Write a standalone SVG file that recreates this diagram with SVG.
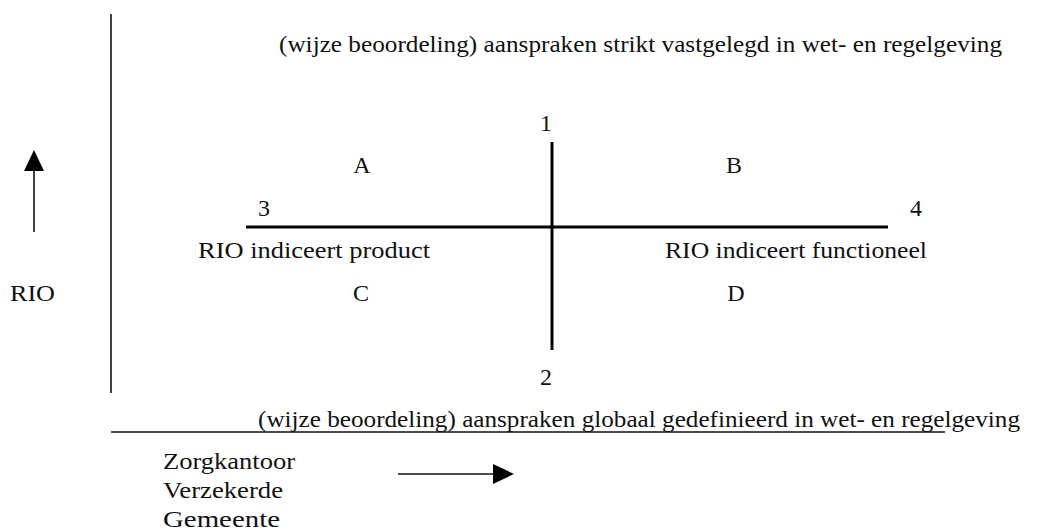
<svg xmlns="http://www.w3.org/2000/svg" width="1037" height="530" viewBox="0 0 1037 530">
<style>
text{font-family:"Liberation Serif","Times New Roman",serif;font-size:24px;fill:#111}
.c{text-anchor:middle}
.thin{stroke:#111;stroke-width:1.6;fill:none}
.thick{stroke:#000;stroke-width:3;fill:none}
.head{fill:#000}
</style>
<rect width="1037" height="530" fill="#fff"/>
<g id="connectors">
<line class="thin" x1="111" y1="14" x2="111" y2="393"/>
<line class="thick" x1="552" y1="142" x2="552" y2="350"/>
<line class="thick" x1="246" y1="227" x2="888" y2="227"/>
<line class="thin" x1="111" y1="432" x2="945" y2="432"/>
<line class="thin" x1="34" y1="232" x2="34" y2="168"/>
<polygon class="head" points="24,171 44,171 34,150"/>
<line class="thin" x1="398" y1="474" x2="496" y2="474"/>
<polygon class="head" points="493,464 493,484 514,474"/>
</g>
<g id="top-label"><text x="279" y="52" textLength="723" lengthAdjust="spacingAndGlyphs">(wijze beoordeling) aanspraken strikt vastgelegd in wet- en regelgeving</text></g>
<g id="n1"><text class="c" x="546" y="131">1</text></g>
<g id="nA"><text class="c" x="362" y="173">A</text></g>
<g id="nB"><text class="c" x="734" y="173">B</text></g>
<g id="n3"><text class="c" x="264" y="216">3</text></g>
<g id="n4"><text class="c" x="916" y="216">4</text></g>
<g id="left-label"><text x="198" y="258" textLength="232" lengthAdjust="spacingAndGlyphs">RIO indiceert product</text></g>
<g id="right-label"><text x="665" y="258" textLength="262" lengthAdjust="spacingAndGlyphs">RIO indiceert functioneel</text></g>
<g id="rio"><text x="10" y="301" textLength="45" lengthAdjust="spacingAndGlyphs">RIO</text></g>
<g id="nC"><text class="c" x="361" y="301">C</text></g>
<g id="nD"><text class="c" x="736" y="301">D</text></g>
<g id="n2"><text class="c" x="546" y="385">2</text></g>
<g id="bottom-label"><text x="258" y="427" textLength="762" lengthAdjust="spacingAndGlyphs">(wijze beoordeling) aanspraken globaal gedefinieerd in wet- en regelgeving</text></g>
<g id="actors">
<text x="163" y="469" textLength="132" lengthAdjust="spacingAndGlyphs">Zorgkantoor</text>
<text x="163" y="498" textLength="120" lengthAdjust="spacingAndGlyphs">Verzekerde</text>
<text x="163" y="527" textLength="117" lengthAdjust="spacingAndGlyphs">Gemeente</text>
</g>
</svg>
